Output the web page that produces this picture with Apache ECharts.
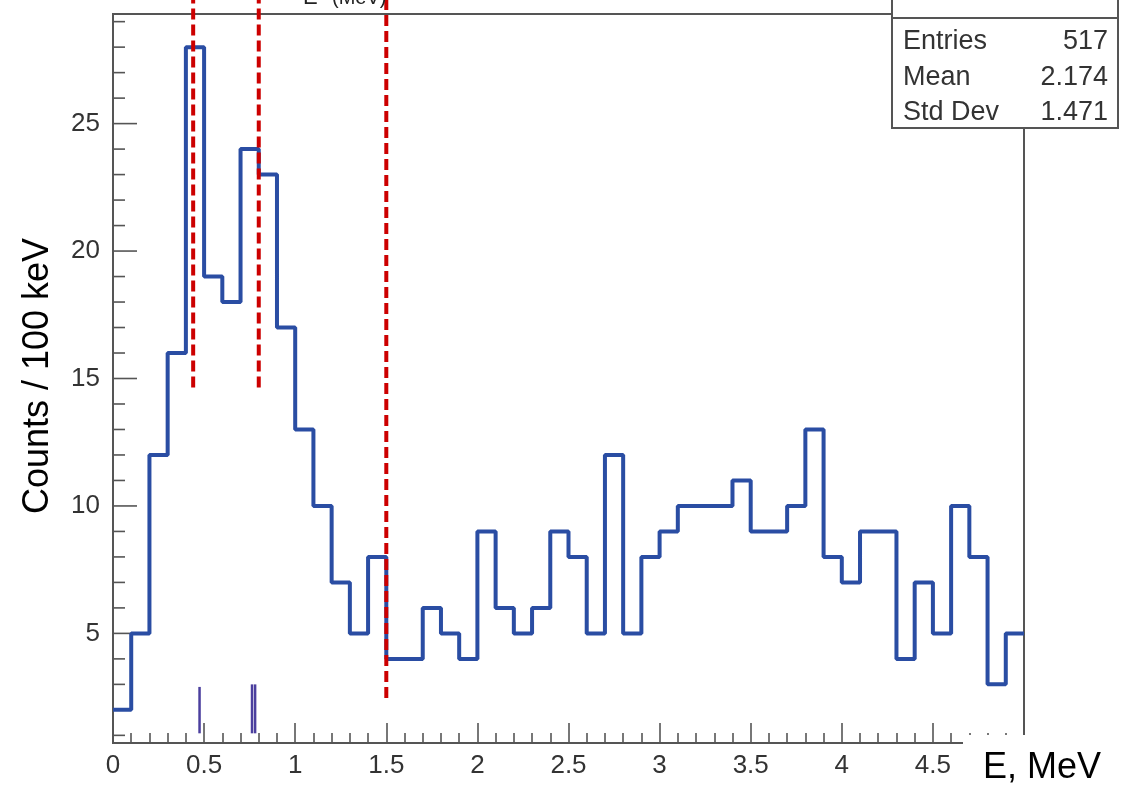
<!DOCTYPE html>
<html><head><meta charset="utf-8">
<script src="https://cdn.jsdelivr.net/npm/echarts@6/dist/echarts.min.js"></script>
<style>html,body{margin:0;padding:0;background:#fff}#c{width:1140px;height:792px}</style>
</head><body><div id="c"></div>
<script>
// ---- data ----
const binEdges = [0.0,0.1,0.2,0.3,0.4,0.5,0.6,0.7,0.8,0.9,
                  1.0,1.1,1.2,1.3,1.4,1.5,1.6,1.7,1.8,1.9,
                  2.0,2.1,2.2,2.3,2.4,2.5,2.6,2.7,2.8,2.9,
                  3.0,3.1,3.2,3.3,3.4,3.5,3.6,3.7,3.8,3.9,
                  4.0,4.1,4.2,4.3,4.4,4.5,4.6,4.7,4.8,4.9];
const counts = [2,5,12,16,28,19,18,24,23,17,
                13,10,7,5,8,4,4,6,5,4,
                9,6,5,6,9,8,5,12,5,8,
                9,10,10,10,11,9,9,10,13,8,
                7,9,9,4,7,5,10,8,3,5];
const histUpperEdge = 5.0;
const xTickLabels = ['0','0.5','1','1.5','2','2.5','3','3.5','4','4.5'];
const yMajorTicks = [5,10,15,20,25];
const yMinorTicks = [1,2,3,4,6,7,8,9,11,12,13,14,16,17,18,19,21,22,23,24,26,27,28,29];
const markerEnergies = [0.44, 0.80, 1.5];
const markerLow = [14.65, 14.65, 2.47];
const markerHigh = 30;
const spikeEnergies = [0.475, 0.763, 0.780];
const spikeLow = 1.08;
const spikeHigh = [2.9, 3.0, 3.0];
const statsLabels = ['Entries','Mean','Std Dev'];
const statsValues = ['517','2.174','1.471'];

// ---- chart ----
const FONT = 'Liberation Sans, Arial, Helvetica, sans-serif';
const histData = binEdges.map((e,i)=>[e, counts[i]]);
histData.push([histUpperEdge, counts[counts.length-1]]);

const series = [];
series.push({
  type:'line', step:'end', data:histData, symbol:'none', silent:true,
  lineStyle:{color:'#2a4da3', width:4}, z:3
});
markerEnergies.forEach((e,i)=>{
  series.push({
    type:'line', data:[[e,markerLow[i]],[e,markerHigh]], symbol:'none', clip:false, silent:true,
    lineStyle:{color:'#cc0000', width:4, type:[11,5]}, z:5
  });
});
spikeEnergies.forEach((e,i)=>{
  series.push({
    type:'line', data:[[e,spikeLow],[e,spikeHigh[i]]], symbol:'none', clip:false, silent:true,
    lineStyle:{color:'#4b3f9e', width:2.5}, z:4
  });
});
series.push({
  type:'custom', coordinateSystem:'cartesian2d', clip:false, silent:true, z:2,
  data: yMajorTicks.map(v=>[0,v,1]).concat(yMinorTicks.map(v=>[0,v,0])),
  encode:{x:0,y:1},
  renderItem:(params, api)=>{
    const v = api.value(1), major = api.value(2);
    const p = api.coord([0, v]);
    const children = [{type:'line', shape:{x1:p[0], y1:p[1], x2:p[0]+(major?24:12), y2:p[1]},
      style:{stroke:'#555', lineWidth:1.6}}];
    if (major) children.push({type:'text', style:{text:String(v), x:p[0]-13, y:p[1],
      align:'right', verticalAlign:'middle', font:'26px '+FONT, fill:'#333'}});
    return {type:'group', children};
  }
});

const graphic = [
  {type:'text', x:303, y:-2, z:10,
   style:{text:'E', font:'22px '+FONT, fill:'#222', verticalAlign:'middle'}},
  {type:'text', x:332, y:-2, z:10,
   style:{text:'(MeV)', font:'20px '+FONT, fill:'#222', verticalAlign:'middle'}},
  {type:'rect', shape:{x:892, y:-30, width:226, height:158}, z:20,
   style:{fill:'#fff', stroke:'#555', lineWidth:2}},
  {type:'line', shape:{x1:892, y1:18, x2:1118, y2:18}, z:21, style:{stroke:'#555', lineWidth:2}},
  {type:'rect', shape:{x:963, y:735, width:180, height:60}, z:20, style:{fill:'#fff'}},
  {type:'text', x:983, y:768, z:21,
   style:{text:'E, MeV', font:'36px '+FONT, fill:'#000', verticalAlign:'middle'}},
  {type:'text', x:38, y:376, rotation:Math.PI/2, z:21,
   style:{text:'Counts / 100 keV', font:'36px '+FONT, fill:'#000', align:'center', verticalAlign:'middle'}}
];
statsLabels.forEach((s,i)=>{
  graphic.push({type:'text', x:903, y:42+i*35.5, z:22,
    style:{text:s, font:'27px '+FONT, fill:'#333', verticalAlign:'middle'}});
  graphic.push({type:'text', x:1108, y:42+i*35.5, z:22,
    style:{text:statsValues[i], font:'27px '+FONT, fill:'#333', align:'right', verticalAlign:'middle'}});
});

const chart = echarts.init(document.getElementById('c'), null, {renderer:'canvas'});
chart.setOption({
  animation:false,
  backgroundColor:'#fff',
  grid:{left:113, right:116, top:14, bottom:49, show:true, borderColor:'#555', borderWidth:2, backgroundColor:'transparent'},
  xAxis:{
    type:'value', min:0, max:5, interval:0.5,
    axisLine:{show:true, lineStyle:{color:'#555', width:2}},
    axisTick:{show:true, inside:true, length:20, lineStyle:{color:'#555', width:1.6}},
    minorTick:{show:true, splitNumber:5, length:10, lineStyle:{color:'#555', width:1.6}},
    splitLine:{show:false}, minorSplitLine:{show:false},
    axisLabel:{margin:10, fontSize:26, fontFamily:FONT, color:'#333',
      formatter:(v)=>{ const i = Math.round(v/0.5); return i < xTickLabels.length ? xTickLabels[i] : ''; }}
  },
  yAxis:{
    type:'value', min:0.7, max:29.3,
    axisLine:{show:true, lineStyle:{color:'#555', width:2}},
    axisTick:{show:false}, axisLabel:{show:false}, splitLine:{show:false}
  },
  series, graphic
});
</script></body></html>
